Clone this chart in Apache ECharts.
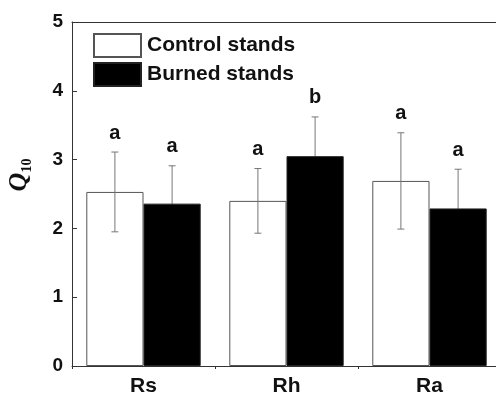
<!DOCTYPE html>
<html>
<head>
<meta charset="utf-8">
<script src="https://cdn.jsdelivr.net/npm/echarts@6/dist/echarts.min.js"></script>
<style>
  html, body { margin: 0; padding: 0; background: #fff; }
  #main { width: 496px; height: 394px; }
</style>
</head>
<body>
<div id="main"></div>
<script>
// Data
const categories = ['Rs', 'Rh', 'Ra'];
const controlMean = [2.53, 2.40, 2.69];
const controlErr = [0.58, 0.47, 0.70];
const burnedMean = [2.36, 3.05, 2.29];
const burnedErr = [0.55, 0.57, 0.57];
const controlLetters = ['a', 'a', 'a'];
const burnedLetters = ['a', 'b', 'a'];
const yTicks = [0, 1, 2, 3, 4, 5];

const chart = echarts.init(document.getElementById('main'));

const font = 'Liberation Sans, Arial, sans-serif';

// error bar + letter, side = -1 for control bar, +1 for burned bar
function errorBars(side) {
  return function (params, api) {
    const idx = api.value(0);
    const mean = api.value(1);
    const err = api.value(2);
    const band = api.size([1, 0])[0];
    const cx = api.coord([idx, 0])[0] + side * band * 0.2;
    const top = api.coord([idx, mean + err])[1];
    const bot = api.coord([idx, mean - err])[1];
    const cap = 3.5;
    const style = { stroke: '#777', lineWidth: 1 };
    const letters = side < 0 ? controlLetters : burnedLetters;
    return {
      type: 'group',
      children: [
        { type: 'line', shape: { x1: cx, y1: top, x2: cx, y2: bot }, style: style },
        { type: 'line', shape: { x1: cx - cap, y1: top, x2: cx + cap, y2: top }, style: style },
        { type: 'line', shape: { x1: cx - cap, y1: bot, x2: cx + cap, y2: bot }, style: style },
        {
          type: 'text',
          style: {
            x: cx, y: top - 9,
            text: letters[idx],
            align: 'center', verticalAlign: 'bottom',
            font: 'bold 20px ' + font,
            fill: '#111'
          }
        }
      ]
    };
  };
}

const option = {
  animation: false,
  grid: {
    left: 72,
    top: 22,
    width: 429,
    bottom: 28,
    outerBoundsMode: 'none'
  },
  legend: {
    orient: 'vertical',
    left: 93,
    top: 33,
    padding: 0,
    itemWidth: 47,
    itemHeight: 23,
    itemGap: 4,
    icon: 'rect',
    textStyle: { fontFamily: font, fontWeight: 'bold', fontSize: 21, color: '#111', padding: [0, 0, 0, 1] },
    data: ['Control stands', 'Burned stands']
  },
  xAxis: [
    {
      type: 'category',
      data: categories,
      axisLine: { lineStyle: { color: '#333', width: 1 } },
      axisTick: { show: true, length: 3, lineStyle: { color: '#333' } },
      axisLabel: { fontFamily: font, fontWeight: 'bold', fontSize: 21, color: '#111', margin: 10 }
    },
    {
      // top frame line of the plot box
      type: 'category',
      position: 'top',
      data: categories,
      axisLine: { show: true, lineStyle: { color: '#333', width: 1 } },
      axisTick: { show: false },
      axisLabel: { show: false }
    }
  ],
  yAxis: {
    type: 'value',
    min: yTicks[0],
    max: yTicks[yTicks.length - 1],
    interval: 1,
    name: '{q|Q}{s|10}',
    nameLocation: 'middle',
    nameRotate: 90,
    nameGap: 40,
    nameTextStyle: {
      rich: {
        q: { fontFamily: 'Liberation Serif, Times New Roman, serif', fontStyle: 'italic', fontWeight: 'bold', fontSize: 26, color: '#111', verticalAlign: 'bottom' },
        s: { fontFamily: 'Liberation Serif, Times New Roman, serif', fontWeight: 'bold', fontSize: 14, color: '#111', verticalAlign: 'bottom', padding: [0, 0, -2, 0] }
      },
      padding: [0, 0, 0, 38]
    },
    axisLine: { show: true, lineStyle: { color: '#333', width: 1 } },
    axisTick: { show: true, inside: true, length: 5, lineStyle: { color: '#333' } },
    splitLine: { show: false },
    axisLabel: { fontFamily: font, fontWeight: 'bold', fontSize: 19, color: '#111', margin: 9 }
  },
  series: [
    {
      name: 'Control stands',
      type: 'bar',
      data: controlMean,
      barGap: '0%',
      barCategoryGap: '20%',
      z: 2,
      itemStyle: { color: '#fff', borderColor: '#555', borderWidth: 1 }
    },
    {
      name: 'Burned stands',
      type: 'bar',
      data: burnedMean,
      z: 2,
      itemStyle: { color: '#000', borderColor: '#222', borderWidth: 1 }
    },
    {
      type: 'custom',
      renderItem: errorBars(-1),
      data: categories.map((c, i) => [i, controlMean[i], controlErr[i]]),
      z: 5
    },
    {
      // drawn behind the black bars, so only the upper whisker shows
      type: 'custom',
      renderItem: errorBars(1),
      data: categories.map((c, i) => [i, burnedMean[i], burnedErr[i]]),
      z: 1
    }
  ]
};

chart.setOption(option);
</script>
</body>
</html>
